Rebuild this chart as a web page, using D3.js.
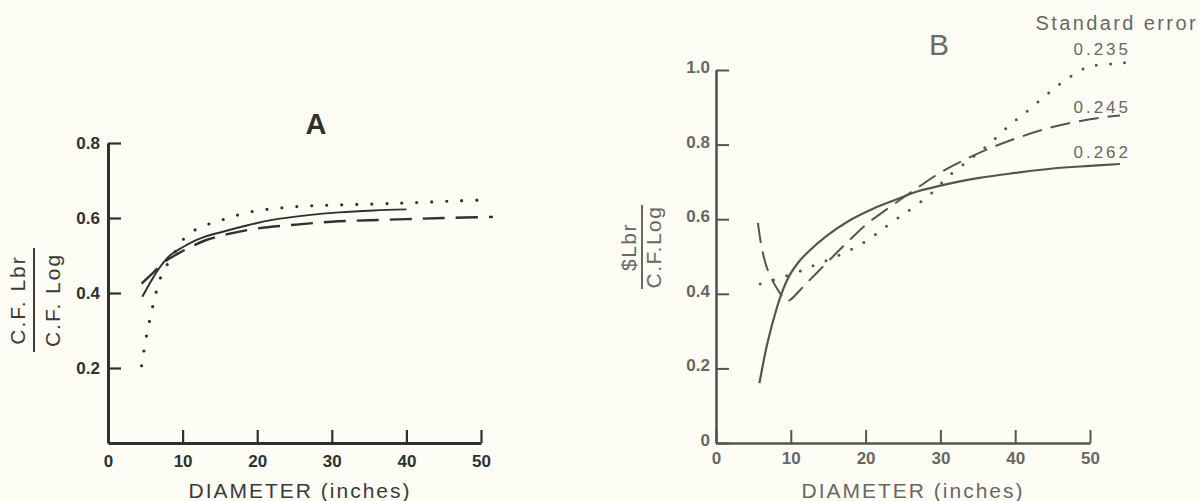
<!DOCTYPE html>
<html>
<head>
<meta charset="utf-8">
<script src="https://cdn.jsdelivr.net/npm/d3@7"></script>
<style>
  body { margin: 0; background: #fdfdf6; }
  svg { display: block; }
  text { font-family: "Liberation Sans", Arial, sans-serif; }
</style>
</head>
<body>
<div id="chart"></div>
<script>
// ticks
var ticksX = [0, 10, 20, 30, 40, 50];
var ticksYA = [0.2, 0.4, 0.6, 0.8];
var ticksYB = [0, 0.2, 0.4, 0.6, 0.8, 1.0];
var labelsYB = ["0", "0.2", "0.4", "0.6", "0.8", "1.0"];

// panel A curves (diameter, ratio)
var aSolidX = [4.6, 5.9, 7, 8.3, 10, 12.3, 15.5, 19, 22, 26.6, 31, 35.6, 40];
var aSolidY = [0.39, 0.436, 0.47, 0.5, 0.522, 0.545, 0.564, 0.582, 0.595, 0.607, 0.615, 0.62, 0.623];
var aDashX = [4.5, 6.1, 7.4, 9.2, 11, 13, 16, 20, 25, 30, 35, 40, 45, 51.6];
var aDashY = [0.425, 0.455, 0.48, 0.503, 0.522, 0.54, 0.557, 0.572, 0.582, 0.59, 0.594, 0.597, 0.6, 0.603];
var aDotX = [4.5, 5.2, 5.9, 6.3, 6.75, 7.3, 9.2, 10.1, 11.4, 13, 14.6, 16.3, 18.1, 20.1, 22.2, 24.4, 26.6, 30.9, 36.7, 40.9, 47.2, 51.4];
var aDotY = [0.206, 0.29, 0.356, 0.39, 0.423, 0.453, 0.516, 0.543, 0.565, 0.58, 0.591, 0.601, 0.612, 0.62, 0.625, 0.629, 0.632, 0.635, 0.638, 0.641, 0.646, 0.649];

// panel B curves
var bSolidX = [5.8, 6.9, 8.1, 9.0, 9.9, 11, 12.1, 14.8, 17.9, 21, 24, 27, 30, 35, 40, 45, 50, 54];
var bSolidY = [0.16, 0.27, 0.36, 0.413, 0.452, 0.484, 0.508, 0.555, 0.597, 0.628, 0.652, 0.675, 0.69, 0.71, 0.724, 0.736, 0.743, 0.748];
var bDashX = [5.6, 6.1, 6.8, 7.7, 8.6, 9.4, 10, 11.7, 14.6, 17.5, 20.1, 23.7, 27, 30, 33, 36.6, 40.6, 45, 50, 54];
var bDashY = [0.59, 0.525, 0.47, 0.43, 0.4, 0.38, 0.385, 0.42, 0.479, 0.537, 0.586, 0.639, 0.685, 0.725, 0.757, 0.79, 0.82, 0.847, 0.868, 0.878];
var bDotX = [5.9, 8.65, 11.9, 13.7, 15.5, 17.4, 19, 20.7, 22.1, 23.6, 25.5, 28.6, 31.3, 34.2, 36.6, 39.3, 41.5, 44.4, 46, 47.3, 48.7, 50.4, 53.1, 54.9];
var bDotY = [0.426, 0.443, 0.466, 0.481, 0.495, 0.513, 0.528, 0.55, 0.571, 0.593, 0.619, 0.666, 0.719, 0.764, 0.803, 0.853, 0.888, 0.937, 0.963, 0.981, 0.999, 1.011, 1.017, 1.02];

var stdErrLabels = ["0.235", "0.245", "0.262"];

function pts(xs, ys) { return xs.map(function (d, i) { return [d, ys[i]]; }); }

var svg = d3.select("#chart")
  .append("svg")
    .attr("width", 1199)
    .attr("height", 501);

svg.append("rect").attr("width", 1199).attr("height", 501).attr("fill", "#fdfdf6");

// ---------- panel A ----------
var inkA = "#30302d";
var xA = d3.scaleLinear().domain([0, 50]).range([108, 481]);
var yA = d3.scaleLinear().domain([0, 0.8]).range([443, 143]);

var gxA = svg.append("g")
  .attr("transform", "translate(0,443)")
  .call(d3.axisBottom(xA).tickValues(ticksX).tickSizeInner(-13).tickSizeOuter(0).tickPadding(12));
var gyA = svg.append("g")
  .attr("transform", "translate(108,0)")
  .call(d3.axisLeft(yA).tickValues(ticksYA).tickFormat(d3.format(".1f")).tickSizeInner(-13).tickSizeOuter(0).tickPadding(8));

[gxA, gyA].forEach(function (g) {
  g.select(".domain").attr("stroke", inkA).attr("stroke-width", 3);
  g.selectAll(".tick line").attr("stroke", inkA).attr("stroke-width", 2.2);
  g.selectAll(".tick text").attr("fill", inkA).attr("font-size", 17).attr("font-weight", "bold")
    .attr("font-family", "Liberation Sans, Arial, sans-serif");
});

var lineA = d3.line()
  .x(function (d) { return xA(d[0]); })
  .y(function (d) { return yA(d[1]); })
  .curve(d3.curveCatmullRom.alpha(0.5));

svg.append("path").datum(pts(aSolidX, aSolidY))
  .attr("d", lineA).attr("fill", "none").attr("stroke", inkA).attr("stroke-width", 2);
svg.append("path").datum(pts(aDashX, aDashY))
  .attr("d", lineA).attr("fill", "none").attr("stroke", inkA).attr("stroke-width", 2.4)
  .attr("stroke-dasharray", "22,11");
svg.append("path").datum(pts(aDotX, aDotY))
  .attr("d", lineA).attr("fill", "none").attr("stroke", inkA).attr("stroke-width", 3.2)
  .attr("stroke-linecap", "round").attr("stroke-dasharray", "0,15");

svg.append("text")
  .attr("x", 316).attr("y", 134)
  .attr("text-anchor", "middle")
  .attr("font-size", 29).attr("font-weight", "bold")
  .attr("fill", inkA)
  .text("A");

svg.append("text")
  .attr("x", 300).attr("y", 498)
  .attr("text-anchor", "middle")
  .attr("font-size", 21).attr("letter-spacing", 2)
  .attr("fill", "#3a3a37")
  .text("DIAMETER (inches)");

var labA = svg.append("g").attr("transform", "translate(34,300) rotate(-90)");
labA.append("text").attr("x", 0).attr("y", -9).attr("text-anchor", "middle")
  .attr("font-size", 21).attr("letter-spacing", 2).attr("fill", "#3a3a37").text("C.F. Lbr");
labA.append("line").attr("x1", -52).attr("x2", 52).attr("y1", 0).attr("y2", 0)
  .attr("stroke", "#3a3a37").attr("stroke-width", 2);
labA.append("text").attr("x", 0).attr("y", 26).attr("text-anchor", "middle")
  .attr("font-size", 21).attr("letter-spacing", 2).attr("fill", "#3a3a37").text("C.F. Log");

// ---------- panel B ----------
var inkB = "#55554f";
var txtB = "#686862";
var xB = d3.scaleLinear().domain([0, 50]).range([716, 1090]);
var yB = d3.scaleLinear().domain([0, 1.0]).range([443, 70]);

var gxB = svg.append("g")
  .attr("transform", "translate(0,443)")
  .call(d3.axisBottom(xB).tickValues(ticksX).tickSizeInner(-13).tickSizeOuter(0).tickPadding(9));
var gyB = svg.append("g")
  .attr("transform", "translate(716,0)")
  .call(d3.axisLeft(yB).tickValues(ticksYB).tickFormat(function (d, i) { return labelsYB[i]; })
    .tickSizeInner(-13).tickSizeOuter(0).tickPadding(6));

[gxB, gyB].forEach(function (g) {
  g.select(".domain").attr("stroke", inkB).attr("stroke-width", 2.6);
  g.selectAll(".tick line").attr("stroke", inkB).attr("stroke-width", 2);
  g.selectAll(".tick text").attr("fill", txtB).attr("font-size", 17).attr("font-weight", "bold")
    .attr("font-family", "Liberation Sans, Arial, sans-serif");
});
gyB.selectAll(".tick text").attr("dy", "0.15em");

var lineB = d3.line()
  .x(function (d) { return xB(d[0]); })
  .y(function (d) { return yB(d[1]); })
  .curve(d3.curveCatmullRom.alpha(0.5));

svg.append("path").datum(pts(bSolidX, bSolidY))
  .attr("d", lineB).attr("fill", "none").attr("stroke", inkB).attr("stroke-width", 2.2);
svg.append("path").datum(pts(bDashX, bDashY))
  .attr("d", lineB).attr("fill", "none").attr("stroke", inkB).attr("stroke-width", 2)
  .attr("stroke-dasharray", "20,9");
svg.append("path").datum(pts(bDotX, bDotY))
  .attr("d", lineB).attr("fill", "none").attr("stroke", inkB).attr("stroke-width", 3)
  .attr("stroke-linecap", "round").attr("stroke-dasharray", "0,14");

svg.append("text")
  .attr("x", 939).attr("y", 55)
  .attr("text-anchor", "middle")
  .attr("font-size", 30)
  .attr("fill", "#6a6a64")
  .text("B");

svg.append("text")
  .attr("x", 1198).attr("y", 30)
  .attr("text-anchor", "end")
  .attr("font-size", 20).attr("letter-spacing", 2.4)
  .attr("fill", txtB)
  .text("Standard error");

var seY = [55, 113, 158];
stdErrLabels.forEach(function (s, i) {
  svg.append("text")
    .attr("x", 1131).attr("y", seY[i])
    .attr("text-anchor", "end")
    .attr("font-size", 17).attr("letter-spacing", 3)
    .attr("fill", txtB)
    .text(s);
});

svg.append("text")
  .attr("x", 913).attr("y", 498)
  .attr("text-anchor", "middle")
  .attr("font-size", 21).attr("letter-spacing", 2)
  .attr("fill", txtB)
  .text("DIAMETER (inches)");

var labB = svg.append("g").attr("transform", "translate(642,247) rotate(-90)");
labB.append("text").attr("x", 0).attr("y", -6).attr("text-anchor", "middle")
  .attr("font-size", 21).attr("letter-spacing", 1.5).attr("fill", txtB).text("$Lbr");
labB.append("line").attr("x1", -42).attr("x2", 42).attr("y1", 0).attr("y2", 0)
  .attr("stroke", txtB).attr("stroke-width", 2);
labB.append("text").attr("x", 0).attr("y", 19).attr("text-anchor", "middle")
  .attr("font-size", 21).attr("letter-spacing", 1.5).attr("fill", txtB).text("C.F.Log");
</script>
</body>
</html>
